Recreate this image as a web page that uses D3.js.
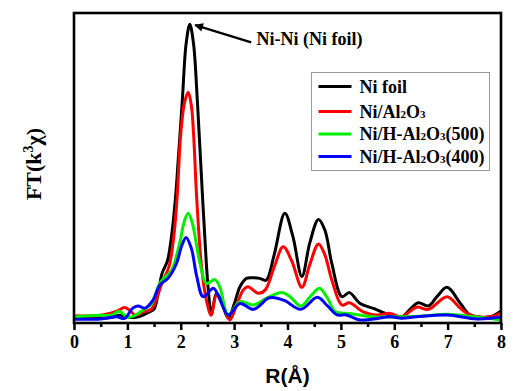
<!DOCTYPE html>
<meta charset="utf-8">
<head>
<style>
body { margin: 0; background: #fff; }
.line { fill: none; stroke-width: 3px; stroke-linejoin: round; }
.tick text { font-family: "Liberation Serif", "Times New Roman", serif; font-weight: bold; font-size: 18px; }
</style>
</head>
<body>
<script src="https://d3js.org/d3.v7.min.js"></script>
<script>

// x tick values and labels
var xTicks = [0, 1, 2, 3, 4, 5, 6, 7, 8];
var xMinorTicks = [0.5, 1.5, 2.5, 3.5, 4.5, 5.5, 6.5, 7.5];

// series, [R, FT] in arbitrary units
var niFoil = [[0,1.5],[0.4,1.5],[0.7,1.8],[0.85,2.5],[1.0,1.8],[1.2,2.0],[1.4,3.5],[1.5,4.5],[1.58,10],[1.65,16],
  [1.75,20],[1.82,27],[1.9,40],[1.95,52],[2.03,72],[2.1,90],[2.17,96.4],[2.24,90],[2.31,72],[2.41,40],[2.48,19],
  [2.53,8],[2.57,2.6],[2.67,9.6],[2.76,7],[2.89,1.5],[3.0,6],[3.11,11.7],[3.23,14.4],[3.35,14.6],[3.48,14.4],
  [3.6,13.8],[3.75,22],[3.95,35.4],[4.1,28],[4.27,15],[4.42,26],[4.58,33.4],[4.7,30],[4.83,19.2],[5.02,8.5],
  [5.16,9.8],[5.36,6.3],[5.61,4.7],[5.92,2.6],[6.14,2],[6.3,4.5],[6.45,6.5],[6.64,5.5],[6.8,8.5],[6.99,11.5],
  [7.24,6.3],[7.42,2.6],[7.8,2],[8.0,3.9]];

var niAl2O3 = [[0,2.3],[0.4,2.3],[0.6,2.8],[0.8,3.8],[0.95,5],[1.05,4],[1.15,2.5],[1.3,3.5],[1.45,4.5],[1.55,8],
  [1.65,13],[1.78,18.2],[1.87,28],[1.93,40],[2.0,61],[2.07,71],[2.14,74.4],[2.2,70],[2.24,61],[2.3,40],[2.39,18],
  [2.48,7.4],[2.57,2.6],[2.67,9],[2.78,6],[2.92,1],[3.05,6],[3.17,10.6],[3.26,11.7],[3.45,9.6],[3.58,10.6],
  [3.75,18],[3.92,24.6],[4.08,20],[4.27,11.5],[4.42,19],[4.58,25.5],[4.7,22],[4.83,13.9],[5.02,5.8],[5.16,6.5],
  [5.42,3.6],[5.67,2.6],[5.92,3.1],[6.14,2],[6.42,5.1],[6.64,4.4],[6.99,8.5],[7.24,4.7],[7.42,2.6],[7.8,2],[8.0,3.3]];

var niH500 = [[0,2],[0.5,2.5],[0.7,2.5],[0.85,3.8],[1.0,1.8],[1.15,2.5],[1.3,4.3],[1.45,6],[1.51,8.5],[1.61,12.9],
  [1.72,15],[1.83,17],[1.98,25.8],[2.07,33],[2.14,35.4],[2.22,32],[2.36,19.3],[2.48,12.8],[2.64,14],[2.73,11.7],
  [2.89,2.6],[3.11,6.9],[3.36,5.8],[3.61,8],[3.89,9.8],[4.05,8.5],[4.25,5.5],[4.45,9],[4.6,11.2],[4.75,8],[4.9,3.6],
  [5.16,3.1],[5.6,2],[6.0,2],[6.5,2.2],[7.0,2.8],[7.5,2],[8.0,1]];

var niH400 = [[0,1.2],[0.5,1.3],[0.8,2],[0.95,1.5],[1.1,4.8],[1.2,5.5],[1.33,4.8],[1.48,7.4],[1.61,12.3],[1.76,14.4],
  [1.92,19.2],[2.02,25],[2.1,27.6],[2.2,24],[2.3,15],[2.42,8.5],[2.61,11.2],[2.7,9],[2.89,2.6],[3.11,6.3],[3.36,4.4],
  [3.64,8],[3.73,8.2],[3.95,7.2],[4.25,4.4],[4.56,8.3],[4.75,5.5],[4.93,2.6],[5.1,2.6],[5.36,1],[5.61,1.3],[5.92,2],
  [6.14,1.5],[6.42,2],[6.99,2.6],[7.55,1.3],[8.0,1.9]];

var seriesNames = ["Ni foil", "Ni/Al2O3", "Ni/H-Al2O3(500)", "Ni/H-Al2O3(400)"];
var seriesColors = ["#000000", "#ff0000", "#00ee00", "#0000ff"];
var seriesData = [niFoil, niAl2O3, niH500, niH400];

var margin = {top: 13, right: 13, bottom: 68, left: 74},
    width = 514 - margin.left - margin.right,
    height = 391 - margin.top - margin.bottom;

var x = d3.scaleLinear().domain([0, 8]).range([0, width]);
var y = d3.scaleLinear().domain([0, 100]).range([height, 0]);

var svg = d3.select("body").append("svg")
    .attr("width", 514)
    .attr("height", 391)
  .append("g")
    .attr("transform", "translate(" + margin.left + "," + margin.top + ")");

svg.append("clipPath").attr("id", "clip")
  .append("rect").attr("width", width).attr("height", height);

var line = d3.line()
    .curve(d3.curveCatmullRom.alpha(0.5))
    .x(function(d) { return x(d[0]); })
    .y(function(d) { return y(d[1]); });

seriesData.forEach(function(s, i) {
  svg.append("path")
    .attr("class", "line")
    .attr("clip-path", "url(#clip)")
    .attr("stroke", seriesColors[i])
    .attr("d", line(s));
});

// bottom axis, major and minor ticks outward
var xAxis = svg.append("g")
    .attr("transform", "translate(0," + height + ")")
    .call(d3.axisBottom(x).tickValues(xTicks).tickSize(7).tickPadding(5).tickFormat(d3.format("d")));
xAxis.select(".domain").remove();
xAxis.selectAll("line").attr("stroke-width", 2.5);

svg.append("g")
    .attr("transform", "translate(0," + height + ")")
    .call(d3.axisBottom(x).tickValues(xMinorTicks).tickSize(4).tickFormat(""))
  .call(function(g) { g.select(".domain").remove(); g.selectAll("line").attr("stroke-width", 2.5); });

// frame
svg.append("rect")
    .attr("width", width)
    .attr("height", height)
    .attr("fill", "none")
    .attr("stroke", "#000")
    .attr("stroke-width", 2.6);

// axis labels
svg.append("text")
    .attr("x", width / 2)
    .attr("y", height + 60)
    .attr("text-anchor", "middle")
    .style("font-family", "'Liberation Sans', Arial, sans-serif")
    .style("font-weight", "bold")
    .style("font-size", "21px")
    .text("R(Å)");

var yl = svg.append("text")
    .attr("transform", "translate(" + (-33) + "," + (height / 2 - 4) + ") rotate(-90)")
    .attr("text-anchor", "middle")
    .style("font-family", "'Liberation Serif', 'Times New Roman', serif")
    .style("font-weight", "bold")
    .style("font-size", "22px");
yl.append("tspan").text("FT(k");
yl.append("tspan").attr("dy", -8).style("font-size", "14px").text("3");
yl.append("tspan").attr("dy", 8).text("χ)");

// annotation arrow
var defs = svg.append("defs");
defs.append("marker")
    .attr("id", "arrow")
    .attr("viewBox", "0 0 10 10")
    .attr("refX", 9).attr("refY", 5)
    .attr("markerWidth", 4.4).attr("markerHeight", 3.6)
    .attr("orient", "auto")
  .append("path").attr("d", "M0,0 L10,5 L0,10 Z").attr("fill", "#000");

svg.append("line")
    .attr("x1", x(3.32)).attr("y1", y(90.5))
    .attr("x2", x(2.27)).attr("y2", y(96.1))
    .attr("stroke", "#000")
    .attr("stroke-width", 2.4)
    .attr("marker-end", "url(#arrow)");

svg.append("text")
    .attr("x", x(3.42))
    .attr("y", 32)
    .style("font-family", "'Liberation Serif', 'Times New Roman', serif")
    .style("font-weight", "bold")
    .style("font-size", "18px")
    .text("Ni-Ni (Ni foil)");

// legend
var lg = svg.append("g").attr("transform", "translate(" + (311.5 - margin.left) + "," + (72.5 - margin.top) + ")");
lg.append("rect")
    .attr("width", 178).attr("height", 98)
    .attr("fill", "#fff")
    .attr("stroke", "#999")
    .attr("stroke-width", 1);

var rowY = [14, 39, 61.5, 84];
seriesNames.forEach(function(name, i) {
  lg.append("line")
    .attr("x1", 7).attr("x2", 40)
    .attr("y1", rowY[i]).attr("y2", rowY[i])
    .attr("stroke", seriesColors[i])
    .attr("stroke-width", 3);
  var t = lg.append("text")
    .attr("x", 48).attr("y", rowY[i] + 6)
    .style("font-family", "'Liberation Serif', 'Times New Roman', serif")
    .style("font-weight", "bold")
    .style("font-size", "18px");
  // split subscripts: digit after "Al" and after "O"
  var parts = name.split(/(Al2|O3)/);
  parts.forEach(function(p) {
    if (p === "Al2") {
      t.append("tspan").text("Al");
      t.append("tspan").style("font-size", "11px").text("2");
    } else if (p === "O3") {
      t.append("tspan").text("O");
      t.append("tspan").style("font-size", "11px").text("3");
    } else if (p) {
      t.append("tspan").text(p);
    }
  });
});

</script>
</body>
